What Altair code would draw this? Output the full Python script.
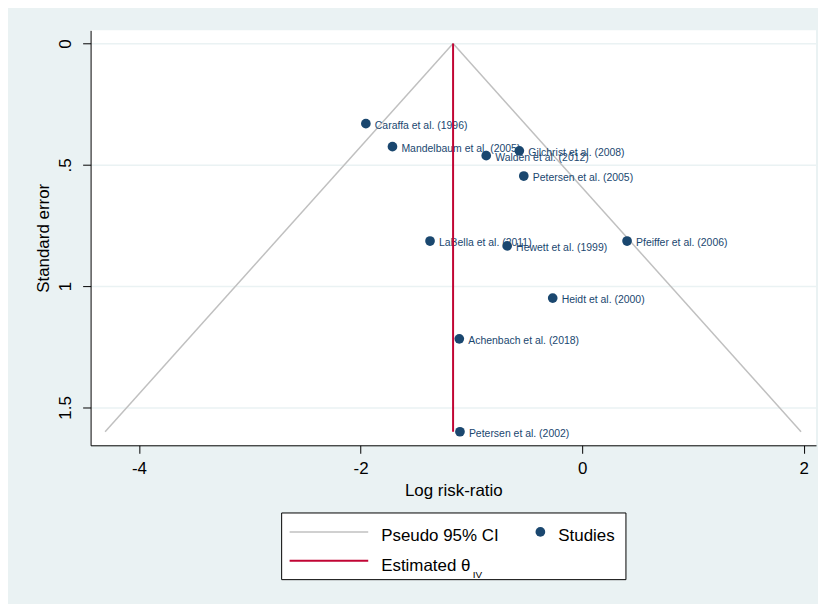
import altair as alt
import pandas as pd

# ---- data ----
studies = ["Caraffa et al. (1996)", "Mandelbaum et al. (2005)", "Walden et al. (2012)",
           "Gilchrist et al. (2008)", "Petersen et al. (2005)", "LaBella et al. (2011)",
           "Hewett et al. (1999)", "Pfeiffer et al. (2006)", "Heidt et al. (2000)",
           "Achenbach et al. (2018)", "Petersen et al. (2002)"]
log_rr = [-1.952, -1.712, -0.866, -0.567, -0.527, -1.373, -0.677, 0.405, -0.266, -1.109, -1.103]
std_err = [0.330, 0.425, 0.462, 0.442, 0.546, 0.814, 0.834, 0.814, 1.049, 1.217, 1.600]

theta_iv = -1.165
se_max = 1.6
ci_left_x = [-4.305, -1.165]
ci_left_se = [1.6, 0.0]
ci_right_x = [-1.165, 1.975]
ci_right_se = [0.0, 1.6]

x_ticks = [-4, -2, 0, 2]
y_ticks = [0, 0.5, 1, 1.5]
legend_labels = ["Pseudo 95% CI", "Studies", "Estimated \u03b8", "IV"]

NAVY = "#1a476f"
RED = "#c10534"
GREY = "#c0c0c0"
BG = "#eaf2f3"

W, H = 729, 417

xs = alt.Scale(domain=[-4.436, 2.110], nice=False, zero=False)
ys = alt.Scale(domain=[-0.0545, 1.656], nice=False, zero=False, reverse=True)

x_axis = alt.Axis(values=x_ticks, title="Log risk-ratio", grid=False,
                  labelExpr="(datum.value < 0 ? '-' : '') + abs(datum.value)",
                  tickSize=8, labelPadding=7, titlePadding=6)
y_axis = alt.Axis(values=y_ticks, title="Standard error", grid=True,
                  gridColor=BG, gridWidth=1.5,
                  labelExpr="datum.value == 0.5 ? '.5' : (datum.value == 1.5 ? '1.5' : '' + datum.value)",
                  labelAngle=270, labelAlign="center", labelBaseline="alphabetic",
                  tickSize=8, labelPadding=12, titlePadding=4)

ci_df = pd.DataFrame({
    "x": ci_left_x + ci_right_x,
    "se": ci_left_se + ci_right_se,
    "side": ["left", "left", "right", "right"],
})
pts_df = pd.DataFrame({"x": log_rr, "se": std_err, "study": studies})
est_df = pd.DataFrame({"x": [theta_iv, theta_iv], "se": [0.0, se_max]})

ci = alt.Chart(ci_df).mark_line(color=GREY, strokeWidth=1.5).encode(
    x=alt.X("x:Q", scale=xs, axis=x_axis),
    y=alt.Y("se:Q", scale=ys, axis=y_axis),
    detail="side:N",
    order="se:Q",
)

pts = alt.Chart(pts_df).mark_circle(color=NAVY, size=95, opacity=1).encode(
    x=alt.X("x:Q", scale=xs),
    y=alt.Y("se:Q", scale=ys),
)

labels = alt.Chart(pts_df).mark_text(
    align="left", baseline="middle", dx=9, dy=2,
    font="Liberation Sans", fontSize=10.5, color=NAVY,
).encode(
    x=alt.X("x:Q", scale=xs),
    y=alt.Y("se:Q", scale=ys),
    text="study:N",
)

est = alt.Chart(est_df).mark_line(color=RED, strokeWidth=2).encode(
    x=alt.X("x:Q", scale=xs),
    y=alt.Y("se:Q", scale=ys),
)

# ---- legend (drawn below the plot) ----
one = pd.DataFrame({"k": [0]})
leg_box = alt.Chart(one).mark_rect(fill="white", stroke="black", strokeWidth=1).encode(
    x=alt.value(192), x2=alt.value(538), y=alt.value(485), y2=alt.value(552)
)
leg_grey = alt.Chart(one).mark_rule(color=GREY, strokeWidth=1.5).encode(
    x=alt.value(200), x2=alt.value(279), y=alt.value(504)
)
leg_red = alt.Chart(one).mark_rule(color=RED, strokeWidth=2).encode(
    x=alt.value(200), x2=alt.value(279), y=alt.value(533)
)
leg_pt = alt.Chart(one).mark_circle(color=NAVY, size=95, opacity=1).encode(
    x=alt.value(452), y=alt.value(504)
)
lf = dict(align="left", baseline="alphabetic", font="Liberation Sans", fontSize=17, color="black")
leg_t1 = alt.Chart(one).mark_text(text=legend_labels[0], **lf).encode(x=alt.value(292), y=alt.value(513))
leg_t2 = alt.Chart(one).mark_text(text=legend_labels[1], **lf).encode(x=alt.value(470), y=alt.value(513))
leg_t3 = alt.Chart(one).mark_text(text=legend_labels[2], **lf).encode(x=alt.value(292), y=alt.value(543))
leg_t4 = alt.Chart(one).mark_text(text=legend_labels[3], align="left", baseline="alphabetic",
                                  font="Liberation Sans", fontSize=10,
                                  color="black").encode(x=alt.value(384), y=alt.value(550))

chart = alt.layer(
    ci, pts, labels, est,
    leg_box, leg_grey, leg_red, leg_pt, leg_t1, leg_t2, leg_t3, leg_t4,
).properties(
    width=W, height=H,
    background=BG,
    padding={"left": 83, "top": 21, "right": 2, "bottom": 158},
    autosize=alt.AutoSizeParams(type="none"),
).configure_view(
    fill="white", stroke=None,
).configure_axis(
    domainColor="black", domainWidth=1, tickColor="black", tickWidth=1,
    labelColor="black", titleColor="black",
    labelFont="Liberation Sans", titleFont="Liberation Sans",
    labelFontSize=17, titleFontSize=17, titleFontWeight="normal",
)

chart.save("out.html", embed_options={"renderer": "svg", "actions": False})
